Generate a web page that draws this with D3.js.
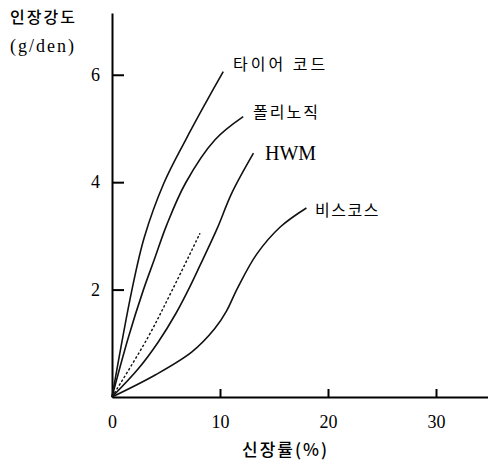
<!DOCTYPE html>
<html>
<head>
<meta charset="utf-8">
<script src="https://cdn.jsdelivr.net/npm/d3@7"></script>
<style>
  html, body { margin: 0; padding: 0; background: #fff; }
  svg { display: block; }
</style>
</head>
<body>
<div id="chart"></div>
<script>
// ---- data ----
const xTicks = [0, 10, 20, 30];
const yTicks = [2, 4, 6];
const xTitle = "신장률(%)";
const yTitle1 = "인장강도";
const yTitle2 = "(g/den)";

const tireX = [0, 1.85, 3.0, 4.8, 6.8, 8.6, 10.3];
const tireY = [0, 2.0, 2.98, 3.98, 4.78, 5.45, 6.06];

const polyX = [0, 1.5, 2.9, 3.9, 5.06, 6.8, 9.54, 12.15];
const polyY = [0, 1.1, 1.99, 2.55, 3.20, 3.98, 4.79, 5.22];

const dashX = [0, 3.3, 5.6, 8.15];
const dashY = [0, 1.1, 2.0, 3.05];

const hwmX = [0, 2.45, 4.3, 5.9, 7.2, 8.15, 9.7, 11.1, 13.1];
const hwmY = [0, 0.53, 1.03, 1.55, 2.05, 2.45, 3.12, 3.8, 4.54];

const viscX = [0, 4.0, 7.4, 9.5, 10.6, 11.6, 13.4, 15.6, 18.0];
const viscY = [0, 0.41, 0.84, 1.27, 1.6, 2.02, 2.66, 3.17, 3.52];

const seriesNames = ["타이어 코드", "폴리노직", "HWM", "비스코스"];

// ---- drawing ----
const W = 488, H = 462;
const svg = d3.select("#chart").append("svg").attr("width", W).attr("height", H);

const x = d3.scaleLinear().domain([0, 35]).range([112, 490]);
const y = d3.scaleLinear().domain([0, 7.15]).range([397, 13]);

const serif = "'Liberation Serif', 'DejaVu Serif', serif";
const kr = "'Noto Sans CJK KR', sans-serif";

// axes
const xAxis = d3.axisBottom(x).tickValues(xTicks).tickSizeInner(-8).tickSizeOuter(0).tickPadding(18).tickFormat(d3.format("d"));
const yAxis = d3.axisLeft(y).tickValues(yTicks).tickSizeInner(-12).tickSizeOuter(0).tickPadding(12).tickFormat(d3.format("d"));

const gx = svg.append("g").attr("transform", `translate(0,${y(0)})`).call(xAxis);
const gy = svg.append("g").attr("transform", `translate(${x(0)},0)`).call(yAxis);

[gx, gy].forEach(g => {
  g.attr("font-family", serif).attr("font-size", 18);
  g.select(".domain").attr("stroke", "#000").attr("stroke-width", 2);
  g.selectAll(".tick line").attr("stroke", "#000").attr("stroke-width", 2);
  g.selectAll(".tick text").attr("fill", "#000");
});
gx.selectAll(".tick").filter(d => d === 0).select("line").remove();

// curves
const line = d3.line().x(d => x(d[0])).y(d => y(d[1])).curve(d3.curveCatmullRom.alpha(0.5));
const zip = (a, b) => a.map((v, i) => [v, b[i]]);

const solid = [zip(tireX, tireY), zip(polyX, polyY), zip(hwmX, hwmY), zip(viscX, viscY)];
svg.append("g").selectAll("path").data(solid).join("path")
  .attr("d", line).attr("fill", "none").attr("stroke", "#111").attr("stroke-width", 1.6);

svg.append("path").datum(zip(dashX, dashY)).attr("d", line)
  .attr("fill", "none").attr("stroke", "#111").attr("stroke-width", 1.4)
  .attr("stroke-dasharray", "2.5,2");

// series labels
const labels = [
  {t: seriesNames[0], x: 233, y: 70, font: kr, size: 16, ls: 3},
  {t: seriesNames[1], x: 253, y: 118, font: kr, size: 16, ls: 2},
  {t: seriesNames[2], x: 265, y: 160, font: serif, size: 20, ls: 0},
  {t: seriesNames[3], x: 315, y: 216, font: kr, size: 16, ls: 1.5}
];
svg.append("g").selectAll("text").data(labels).join("text")
  .attr("x", d => d.x).attr("y", d => d.y)
  .attr("font-family", d => d.font).attr("font-size", d => d.size)
  .attr("letter-spacing", d => d.ls).attr("fill", "#000")
  .text(d => d.t);

// axis titles
svg.append("text").attr("x", 10).attr("y", 23).attr("font-family", kr).attr("font-size", 16)
  .attr("letter-spacing", 2).attr("font-weight", 500).text(yTitle1);
svg.append("text").attr("x", 10).attr("y", 52).attr("font-family", serif).attr("font-size", 18)
  .attr("letter-spacing", 2).text(yTitle2);
svg.append("text").attr("x", 242).attr("y", 456).attr("font-family", kr).attr("font-size", 17)
  .attr("letter-spacing", 2).attr("font-weight", 500).text(xTitle);
</script>
</body>
</html>
